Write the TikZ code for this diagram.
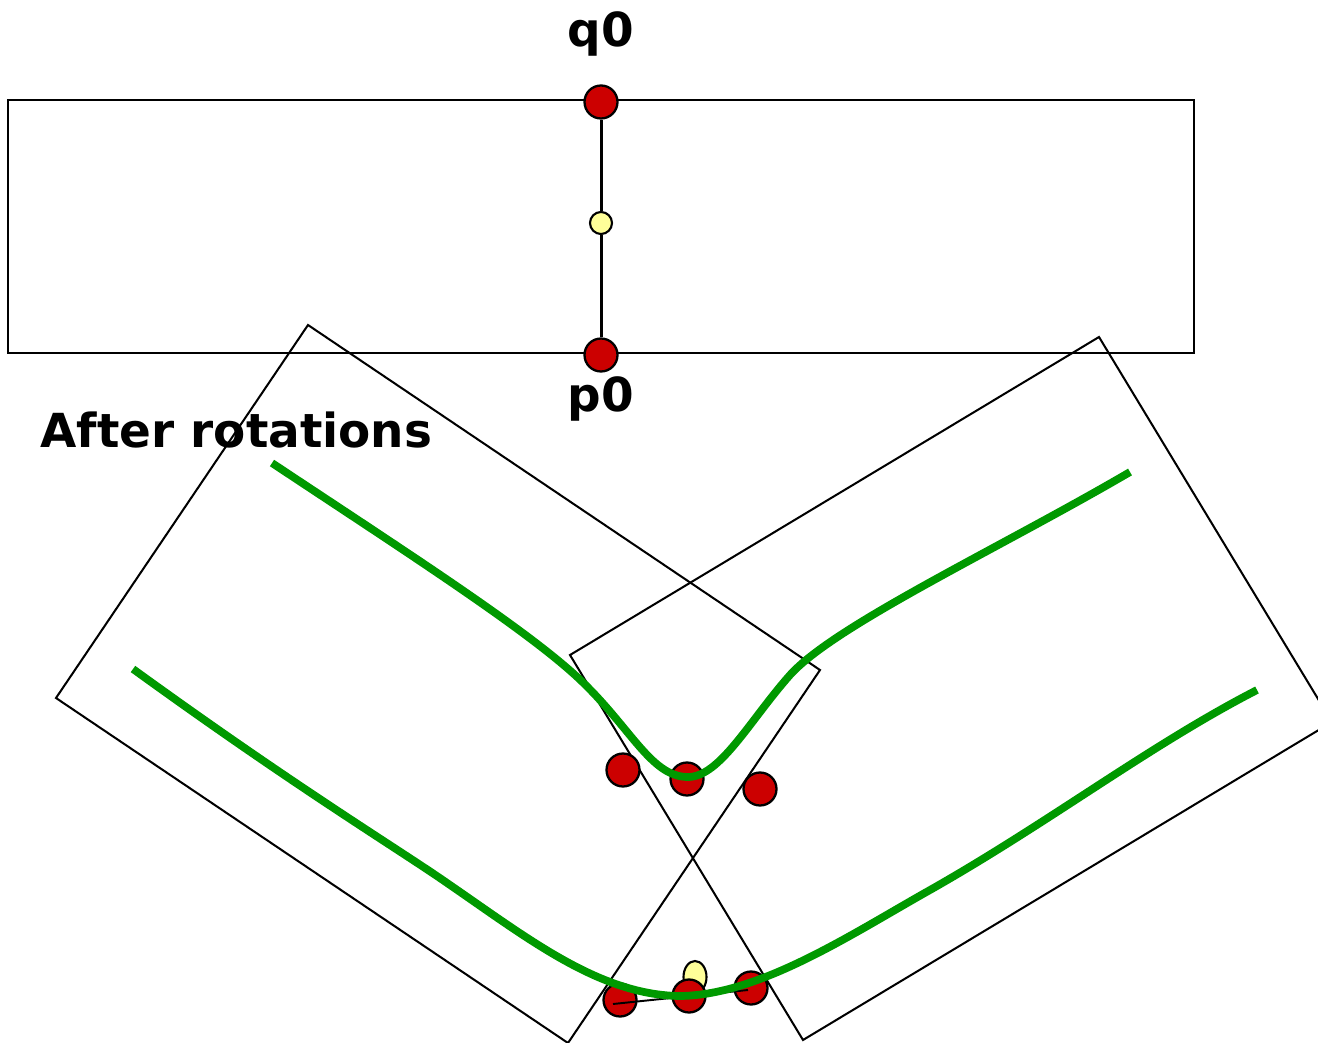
\documentclass[tikz,border=0pt]{standalone}
\usepackage{fontspec}
\setmainfont{DejaVu Sans}
\usepackage{tikz}
\usetikzlibrary{shapes.geometric}
\definecolor{ptred}{HTML}{CC0000}
\definecolor{ptyellow}{HTML}{FFFF99}
\definecolor{curvegreen}{HTML}{009900}

\tikzset{
 boxline/.style={black,line width=1.15pt},
 reddot/.style={circle,draw=black,fill=ptred,line width=1.3pt,minimum size=0.66cm,inner sep=0pt},
 yellowdot/.style={circle,draw=black,fill=ptyellow,line width=1.2pt,minimum size=0.44cm,inner sep=0pt},
 greencurve/.style={curvegreen,line width=4.4pt},
 ptlabel/.style={font=\fontsize{26.7}{32}\selectfont\bfseries,inner sep=0pt}
}

\begin{document}
\begin{tikzpicture}[x=0.02cm,y=-0.02cm]
\useasboundingbox (0,0) rectangle (1318,1043);
\clip (0,0) rectangle (1318,1043);
% segment p0--q0 in its box
\draw[boxline] (8,100) rectangle (1194,353);
\node[reddot] (q0dot) at (601,102) {};
\node[yellowdot] (middot) at (601,223) {};
\node[reddot] (p0dot) at (601,355) {};
\draw[black,line width=1.7pt] (q0dot) -- (middot) -- (p0dot);
\node[ptlabel,anchor=base] (q0) at (601,47) {q0};
\node[ptlabel,anchor=base] (p0) at (601,412) {p0};
\node[ptlabel,anchor=base west] (title) at (40,448) {After rotations};
% rotated boxes
\draw[boxline] (308,325) -- (820,670) -- (568,1043) -- (56,698) -- cycle;
\draw[boxline] (570,655) -- (1099,337) -- (1332,722) -- (803,1040) -- cycle;
% points after rotation
\node[reddot] (ua) at (623,770) {};
\node[reddot] (ub) at (687,779) {};
\node[reddot] (uc) at (760,789) {};
\node[reddot] (la) at (620,1000) {};
\node[reddot] (lc) at (751,988) {};
\coordinate (segA) at (613,1004);
\coordinate (segB) at (748,990);
\draw[black,line width=1.1pt] (segA) -- (segB);
\node[ellipse,draw=black,fill=ptyellow,line width=1.2pt,minimum width=0.46cm,minimum height=0.64cm,inner sep=0pt] (le) at (695,977) {};
\node[reddot] (lb) at (689,996) {};
% curves
\draw[greencurve] (272,463) .. controls (400,548) and (520,625) .. (575,675)
 .. controls (630,725) and (650,777) .. (688,777)
 .. controls (720,777) and (750,720) .. (790,675)
 .. controls (835,625) and (1000,548) .. (1130,472);
\draw[greencurve] (133,669) .. controls (300,790) and (400,850) .. (450,885)
 .. controls (530,940) and (600,995) .. (680,996)
 .. controls (760,995) and (850,935) .. (930,890)
 .. controls (1050,822) and (1150,745) .. (1257,690);
\end{tikzpicture}
\end{document}
